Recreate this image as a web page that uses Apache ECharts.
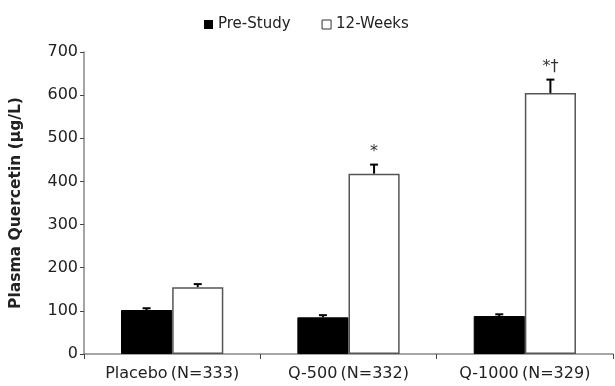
<!DOCTYPE html>
<html>
<head>
<meta charset="utf-8">
<script src="https://cdn.jsdelivr.net/npm/echarts@6/dist/echarts.min.js"></script>
<style>
html,body{margin:0;padding:0;background:#fff;}
#chart{width:615px;height:386px;}
</style>
</head>
<body>
<div id="chart"></div>
<script>
const categories = ['Placebo\u2009(N=333)', 'Q-500\u2009(N=332)', 'Q-1000\u2009(N=329)'];
const preStudy = [102, 85, 88];
const preStudyErr = [4, 5, 4];
const weeks12 = [155, 418, 605];
const weeks12Err = [7, 21, 31];
const notes12 = ['', '*', '*\u2020'];
const yTicks = [0, 100, 200, 300, 400, 500, 600, 700];

const FONT = '"DejaVu Sans", "Liberation Sans", Arial, sans-serif';
const chart = echarts.init(document.getElementById('chart'), null, {renderer: 'canvas'});

function errSeries(values, errs, side, notes) {
  return {
    type: 'custom',
    silent: true,
    z: 5,
    data: values.map((v, i) => [i, v, v + errs[i]]),
    renderItem: function (params, api) {
      const idx = api.value(0);
      const band = api.size([1, 0])[0];
      const off = side * band * 0.145;
      const base = api.coord([idx, api.value(1)]);
      const top = api.coord([idx, api.value(2)]);
      const x = base[0] + off;
      const children = [
        {type: 'line', shape: {x1: x, y1: base[1], x2: x, y2: top[1]}, style: {stroke: '#000', lineWidth: 2}},
        {type: 'line', shape: {x1: x - 4, y1: top[1], x2: x + 4, y2: top[1]}, style: {stroke: '#000', lineWidth: 2}}
      ];
      if (notes && notes[idx]) {
        children.push({type: 'text', x: x, y: top[1] - 5,
          style: {text: notes[idx], fill: '#333', font: '16px ' + FONT, align: 'center', verticalAlign: 'bottom'}});
      }
      return {type: 'group', children: children};
    }
  };
}

chart.setOption({
  animation: false,
  backgroundColor: '#fff',
  textStyle: {fontFamily: FONT},
  legend: {
    top: 12,
    left: 199,
    itemWidth: 9,
    itemHeight: 9,
    itemGap: 31,
    icon: 'rect',
    textStyle: {fontSize: 15, color: '#222', fontFamily: FONT},
    data: [
      {name: 'Pre-Study', itemStyle: {color: '#000', borderColor: '#000', borderWidth: 0}},
      {name: '12-Weeks', itemStyle: {color: '#fff', borderColor: '#333', borderWidth: 1}}
    ]
  },
  grid: {left: 82, right: 2, top: 52, bottom: 32, containLabel: false},
  xAxis: {
    type: 'category',
    data: categories,
    axisLine: {lineStyle: {color: '#888', width: 1.5}},
    axisTick: {show: true, alignWithLabel: false, inside: false, length: 5, lineStyle: {color: '#444'}},
    axisLabel: {interval: 0, hideOverlap: false, fontSize: 16, color: '#222', margin: 12, fontFamily: FONT}
  },
  yAxis: {
    type: 'value',
    min: 0,
    max: 700,
    interval: 100,
    name: 'Plasma Quercetin (\u00b5g/L)',
    nameLocation: 'middle',
    nameGap: 60,
    nameTextStyle: {fontSize: 15.5, fontWeight: 'bold', color: '#222', fontFamily: FONT},
    axisLine: {show: true, lineStyle: {color: '#888', width: 1.5}},
    axisTick: {show: true, length: 4, lineStyle: {color: '#444'}},
    splitLine: {show: false},
    axisLabel: {fontSize: 16, color: '#222', margin: 6, fontFamily: FONT,
      formatter: v => yTicks.includes(v) ? String(v) : ''}
  },
  series: [
    {name: 'Pre-Study', type: 'bar', data: preStudy, barGap: '0%', barCategoryGap: '42%',
      itemStyle: {color: '#000', borderColor: '#000', borderWidth: 1}},
    {name: '12-Weeks', type: 'bar', data: weeks12, barGap: '0%', barCategoryGap: '42%',
      itemStyle: {color: '#fff', borderColor: '#555', borderWidth: 1.5}},
    errSeries(preStudy, preStudyErr, -1, null),
    errSeries(weeks12, weeks12Err, 1, notes12)
  ]
});
</script>
</body>
</html>
